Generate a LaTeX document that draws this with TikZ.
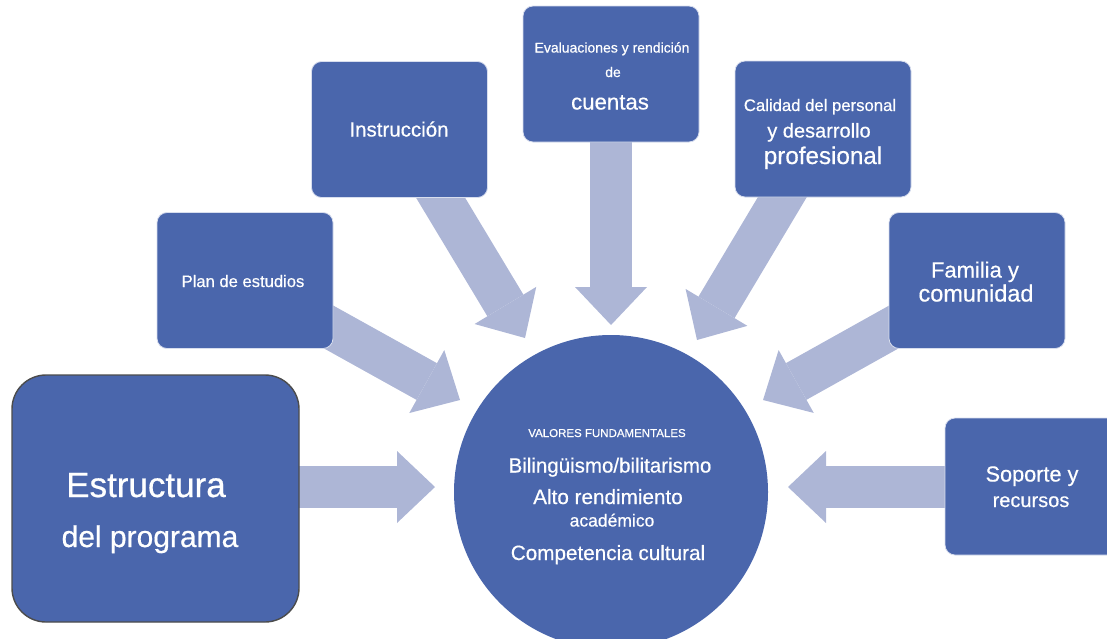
\documentclass[tikz,border=0pt]{standalone}
\usepackage{fontspec}
\setmainfont{Liberation Sans}[FakeBold=0.5]
\usetikzlibrary{arrows.meta,backgrounds}
\definecolor{boxc}{HTML}{4A66AC}
\definecolor{arrc}{HTML}{ADB6D6}
\definecolor{edgec}{HTML}{D8DEEE}
\newcommand\myfs[1]{\fontsize{#1}{#1}\selectfont}
\begin{document}
\begin{tikzpicture}[x=1pt,y=-1pt,
  box/.style={draw=edgec, line width=0.8pt, fill=boxc, rounded corners=10pt,
    minimum width=176pt, minimum height=136pt, inner sep=0pt},
  lbl/.style={text=white, anchor=base, inner sep=0pt},
  fat/.style={arrc, line width=42pt,
    -{Triangle[length=38pt,width=72pt,line width=0pt]}}]
\path[use as bounding box] (0,0) rectangle (1107,638);
\clip (0,0) rectangle (1107,638);

% boxes and core circle
\node[box, minimum width=287pt, minimum height=247pt, rounded corners=34pt,
  draw=black!70, line width=1.4pt] (estr) at (155.5,498.5) {};
\node[box] (plan) at (245,280.5) {};
\node[box] (instr) at (399.5,129.5) {};
\node[box] (eval) at (611,74) {};
\node[box] (cal) at (823,129) {};
\node[box] (fam) at (977,280.5) {};
\node[box, minimum width=200pt, minimum height=137pt] (sop) at (1045,486.5) {};
\node[circle, fill=boxc, minimum size=314pt, inner sep=0pt] (core) at (611,492) {};

% arrow tips
\coordinate (tE) at (435,487);
\coordinate (tP) at (460,400);
\coordinate (tI) at (525,338);
\coordinate (tV) at (611,325);
\coordinate (tC) at (697,340);
\coordinate (tF) at (763,400);
\coordinate (tS) at (788,487);

\begin{scope}[on background layer]
  \draw[fat] (estr.center |- tE) -- (tE);
  \draw[fat] (plan.center) -- (tP);
  \draw[fat] (instr.center) -- (tI);
  \draw[fat] (eval.center) -- (tV);
  \draw[fat] (cal.center) -- (tC);
  \draw[fat] (fam.center) -- (tF);
  \draw[fat] (sop.center |- tS) -- (tS);
\end{scope}

% texts
\node[lbl, font=\myfs{35}] (tEstr1) at (146,497) {Estructura};
\node[lbl, font=\myfs{30}] (tEstr2) at (150,547) {del programa};
\node[lbl, font=\myfs{16.6}] (tPlan) at (243,287) {Plan de estudios};
\node[lbl, font=\myfs{20.5}] (tInstr) at (399,136.5) {Instrucción};
\node[lbl, font=\myfs{14}] (tEval1) at (612,52.5) {Evaluaciones y rendición};
\node[lbl, font=\myfs{14}] (tEval2) at (613,77) {de};
\node[lbl, font=\myfs{22.2}] (tEval3) at (610,109.5) {cuentas};
\node[lbl, font=\myfs{16.7}] (tCal1) at (820,111) {Calidad del personal};
\node[lbl, font=\myfs{20}] (tCal2) at (819,137.5) {y desarrollo};
\node[lbl, font=\myfs{24.2}] (tCal3) at (823,164) {profesional};
\node[lbl, font=\myfs{22}] (tFam1) at (975,277.5) {Familia y};
\node[lbl, font=\myfs{23.5}] (tFam2) at (976,301.5) {comunidad};
\node[lbl, font=\myfs{21.7}] (tSop1) at (1032,481.5) {Soporte y};
\node[lbl, font=\myfs{20}] (tSop2) at (1031,507) {recursos};
\node[lbl, font=\myfs{11.5}] (tV0) at (607,437) {VALORES FUNDAMENTALES};
\node[lbl, font=\myfs{20.5}] (tV1) at (610,472.5) {Bilingüismo/bilitarismo};
\node[lbl, font=\myfs{20.7}] (tV2) at (608,504) {Alto rendimiento};
\node[lbl, font=\myfs{17.5}] (tV3) at (612,526.5) {académico};
\node[lbl, font=\myfs{20.7}] (tV4) at (608,560) {Competencia cultural};
\end{tikzpicture}
\end{document}
